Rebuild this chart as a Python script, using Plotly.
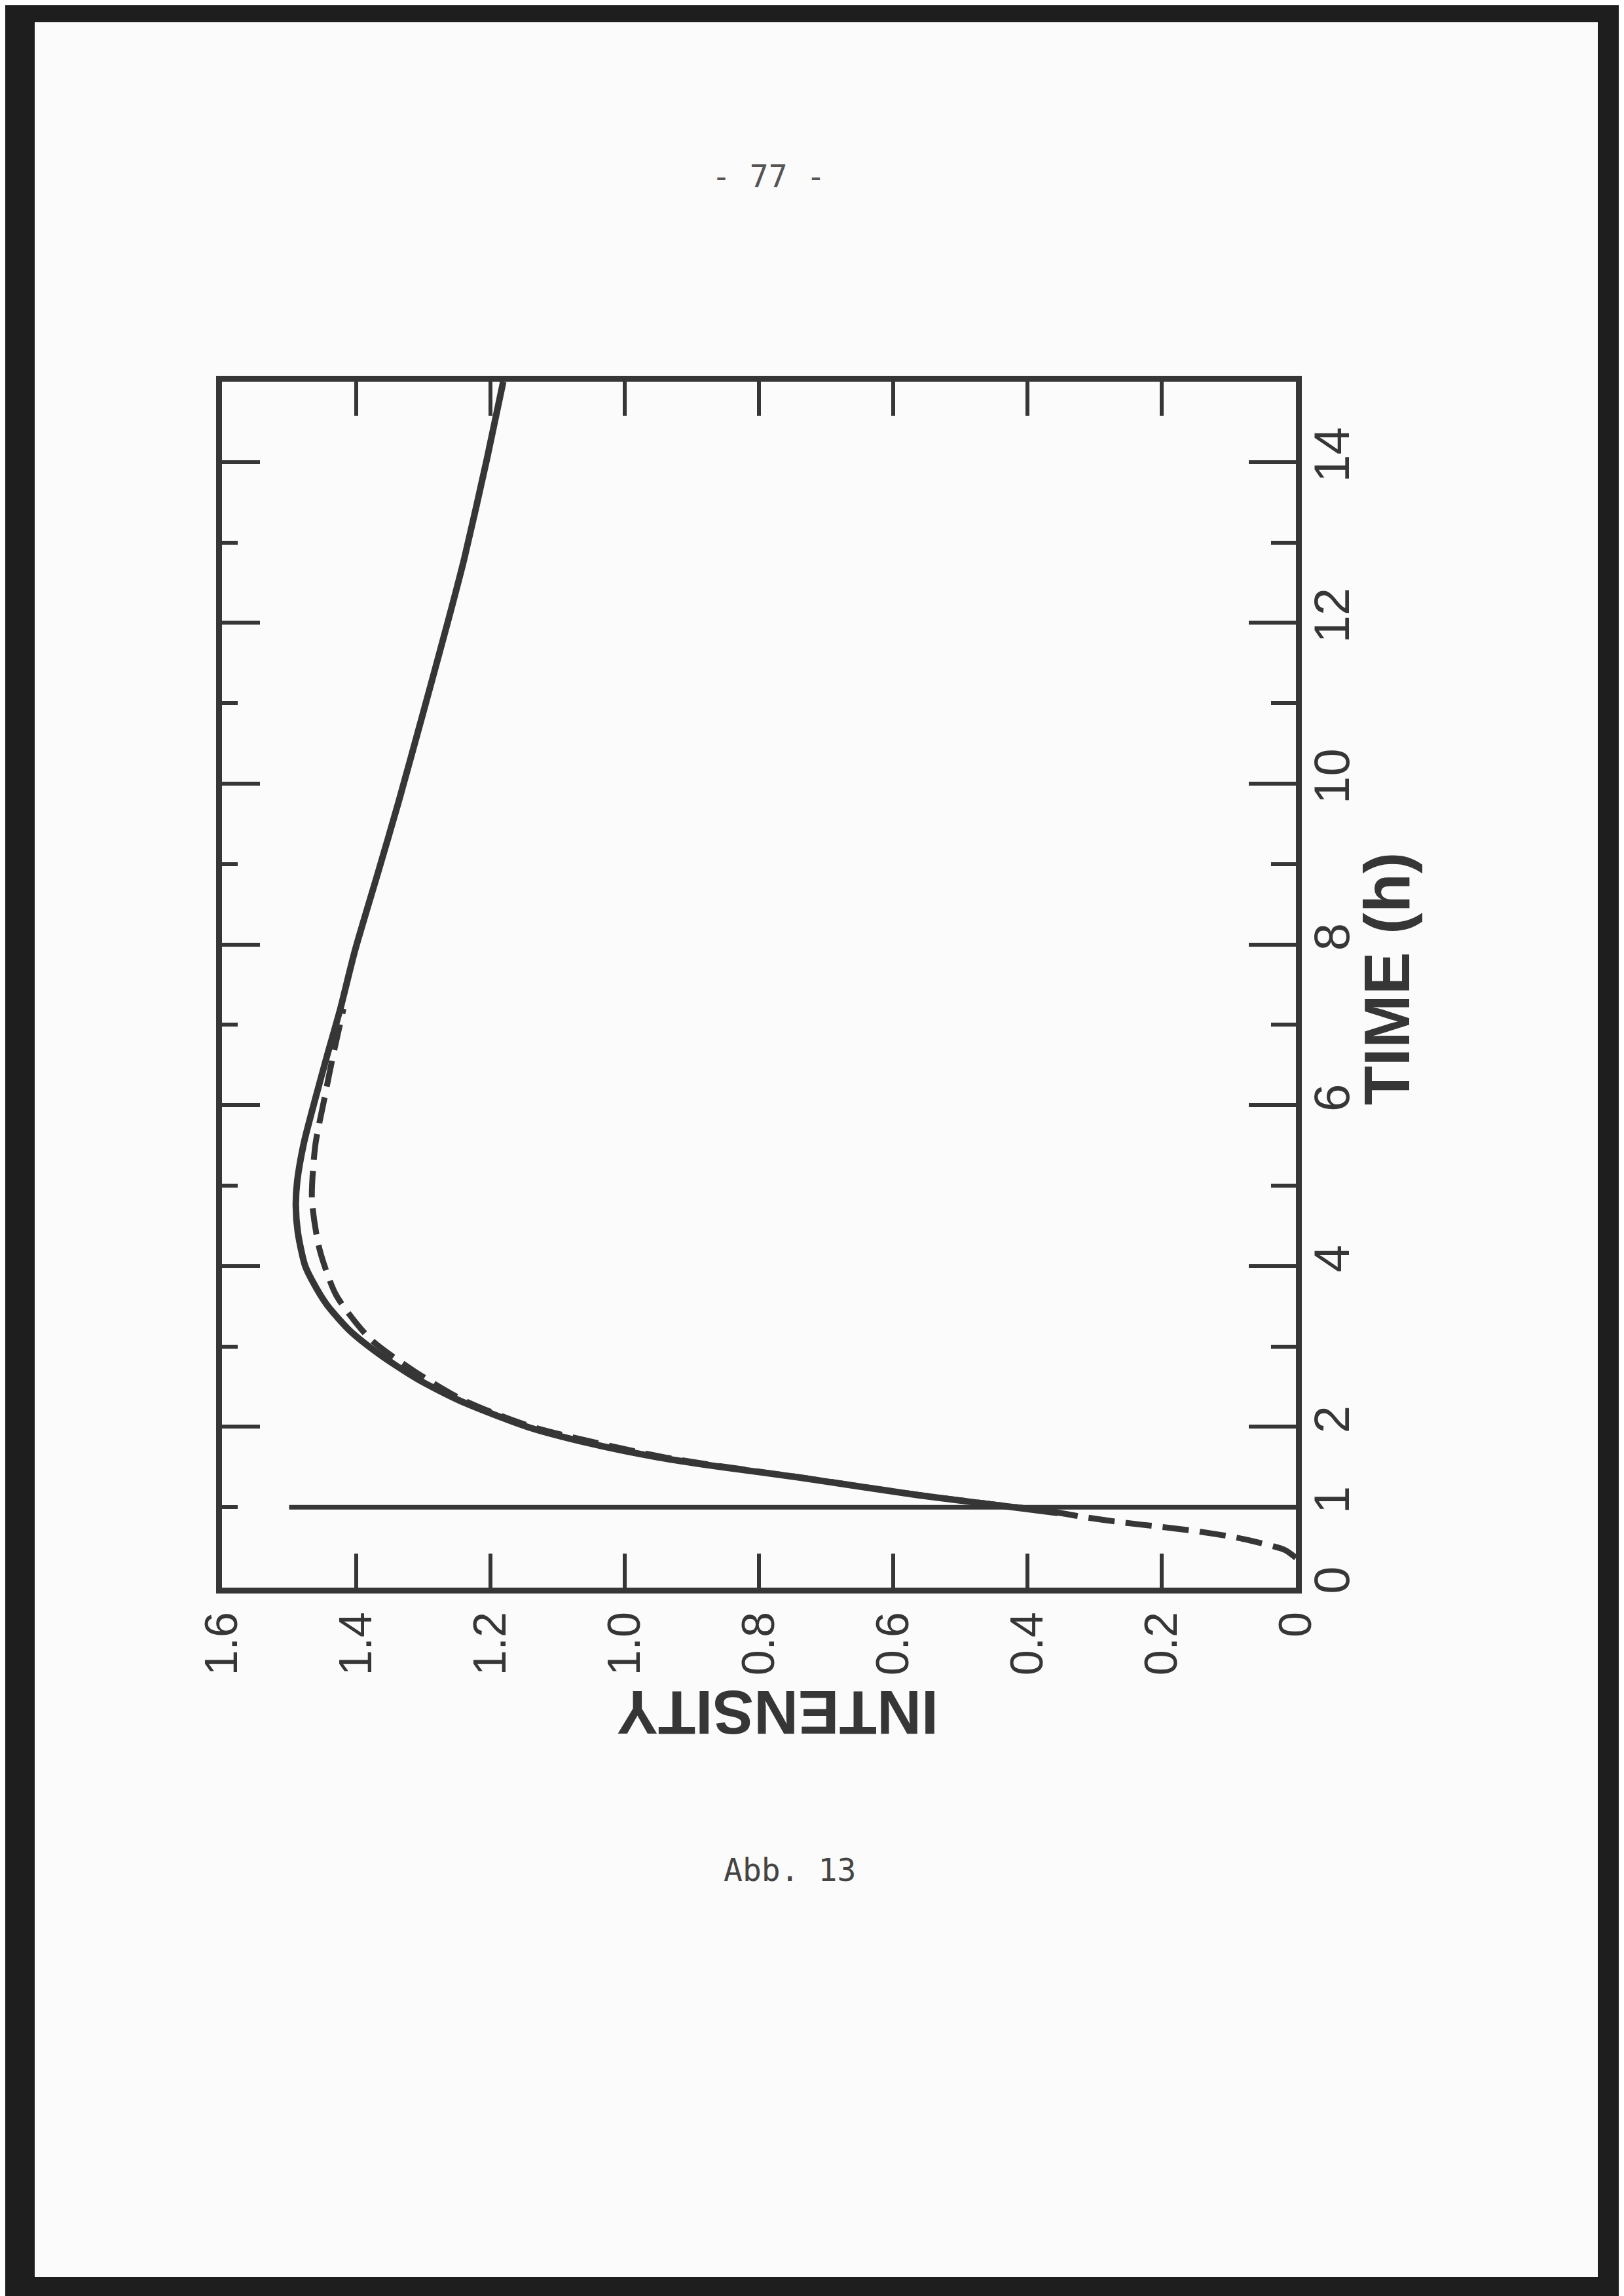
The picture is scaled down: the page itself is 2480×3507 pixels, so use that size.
import plotly.graph_objects as go

# ---------------- data ----------------
# solid curve: time (h) / intensity
solid_t = [0.93, 1.0, 1.15, 1.37, 1.5, 1.62, 1.79, 2.0, 2.33, 2.6, 2.9, 3.2, 3.5, 3.72,
           4.0, 4.42, 4.75, 5.05, 5.53, 6.08, 6.63, 7.19, 7.92, 8.91, 9.77, 10.83,
           12.06, 12.8, 14.05, 15.0]
solid_i = [0.355, 0.42, 0.563, 0.74, 0.856, 0.95, 1.05, 1.145, 1.247, 1.31, 1.365, 1.41,
           1.442, 1.459, 1.476, 1.487, 1.49, 1.488, 1.478, 1.461, 1.443, 1.424, 1.402,
           1.367, 1.337, 1.302, 1.262, 1.239, 1.205, 1.181]

# dashed curve: time (h) / intensity
dashed_t = [0.37, 0.47, 0.59, 0.64, 0.71, 0.76, 0.81, 0.88, 0.94, 1.15, 1.37, 1.62, 2.0,
            2.33, 2.7, 3.1, 3.64, 4.22, 4.83, 5.5, 6.1, 6.6, 7.2]
dashed_i = [0.0, 0.017, 0.07, 0.10, 0.155, 0.205, 0.258, 0.317, 0.36, 0.56, 0.738, 0.94,
            1.138, 1.24, 1.315, 1.38, 1.43, 1.455, 1.466, 1.461, 1.447, 1.435, 1.419]

# vertical marker line at t = 1 h
marker_t = [1.0, 1.0]
marker_i = [0.0, 1.5]

# axes
intensity_ticks = [0, 0.2, 0.4, 0.6, 0.8, 1.0, 1.2, 1.4, 1.6]
intensity_labels = ["0", "0.2", "0.4", "0.6", "0.8", "1.0", "1.2", "1.4", "1.6"]
time_label_vals = [0, 1, 2, 4, 6, 8, 10, 12, 14]
time_label_text = ["0", "1", "2", "4", "6", "8", "10", "12", "14"]
time_range = [0, 15]
intensity_range = [1.6, 0]

# ---------------- styling ----------------
INK = "#363636"
W, H = 2480, 3507
L, R, T, B = 331, 1971, 575, 2417
PW, PH = R - L, B - T


def px_x(p):
    return (p - L) / PW


def px_y(p):
    return (B - p) / PH


xtick_font = dict(family="Liberation Sans Narrow, Liberation Sans, Arial", size=70, color=INK)
ytick_font = dict(family="Liberation Sans Narrow, Liberation Sans, Arial", size=76, color=INK)

fig = go.Figure()
fig.add_trace(go.Scatter(x=dashed_i, y=dashed_t, mode="lines", yaxis="y",
                         line=dict(color=INK, width=9, dash="40px,17px",
                                   shape="spline", smoothing=0.7),
                         showlegend=False, hoverinfo="skip"))
fig.add_trace(go.Scatter(x=marker_i, y=marker_t, mode="lines", yaxis="y2",
                         line=dict(color=INK, width=7),
                         showlegend=False, hoverinfo="skip"))
fig.add_trace(go.Scatter(x=solid_i, y=solid_t, mode="lines", yaxis="y3",
                         line=dict(color=INK, width=10, shape="spline", smoothing=0.7),
                         showlegend=False, hoverinfo="skip"))

fig.update_layout(
    width=W, height=H, autosize=False,
    margin=dict(l=L, r=W - R, t=T, b=H - B, pad=0),
    paper_bgcolor="#1e1e1e",
    plot_bgcolor="rgba(0,0,0,0)",
    showlegend=False,
    xaxis=dict(
        range=intensity_range, tickmode="array", tickvals=intensity_ticks,
        ticktext=intensity_labels, ticks="inside", ticklen=52, tickwidth=6,
        tickcolor=INK, showline=True, linewidth=9, linecolor=INK, mirror="ticks",
        tickangle=-90, tickfont=xtick_font, ticklabelstandoff=0,
        showgrid=False, zeroline=False,
    ),
    yaxis=dict(
        range=time_range, side="right", anchor="x", tickmode="array",
        tickvals=time_label_vals, ticktext=time_label_text, ticks="",
        showline=False, tickangle=-90, tickfont=ytick_font, ticklabelstandoff=4,
        showgrid=False, zeroline=False,
    ),
    yaxis2=dict(
        range=time_range, overlaying="y", side="left", anchor="x",
        tickmode="linear", tick0=0, dtick=2, ticks="inside", ticklen=58, tickwidth=6,
        tickcolor=INK, minor=dict(dtick=1, tick0=0, ticks="inside", ticklen=24,
                                  tickwidth=6, tickcolor=INK),
        showticklabels=False, showline=True, linewidth=9, linecolor=INK,
        showgrid=False, zeroline=False,
    ),
    yaxis3=dict(
        range=time_range, overlaying="y", side="right", anchor="x",
        tickmode="linear", tick0=0, dtick=2, ticks="inside", ticklen=72, tickwidth=6,
        tickcolor=INK, minor=dict(dtick=1, tick0=0, ticks="inside", ticklen=38,
                                  tickwidth=6, tickcolor=INK),
        showticklabels=False, showline=True, linewidth=9, linecolor=INK,
        showgrid=False, zeroline=False,
    ),
    shapes=[dict(type="rect", xref="paper", yref="paper", layer="below",
                 x0=px_x(45), x1=px_x(2432), y0=px_y(3470), y1=px_y(26),
                 fillcolor="#fbfbfb", line=dict(width=0))],
    annotations=[
        dict(text="<b>TIME (h)</b>", xref="paper", yref="paper",
             x=px_x(2110), y=px_y(1487), textangle=-90, showarrow=False,
             xanchor="center", yanchor="middle",
             font=dict(family="Liberation Sans, Arial", size=98, color=INK)),
        dict(text="<b>INTENSITY</b>", xref="paper", yref="paper",
             x=px_x(1180), y=px_y(2608), textangle=180, showarrow=False,
             xanchor="center", yanchor="middle",
             font=dict(family="Liberation Sans, Arial", size=94, color=INK)),
        dict(text="- 77 -", xref="paper", yref="paper",
             x=px_x(1165), y=px_y(261), showarrow=False,
             xanchor="center", yanchor="middle",
             font=dict(family="DejaVu Sans Mono, Liberation Mono", size=48, color="#555555")),
        dict(text="Abb. 13", xref="paper", yref="paper",
             x=px_x(1198), y=px_y(2848), showarrow=False,
             xanchor="center", yanchor="middle",
             font=dict(family="DejaVu Sans Mono, Liberation Mono", size=48, color="#444444")),
    ],
)

fig.write_html("out.html")
